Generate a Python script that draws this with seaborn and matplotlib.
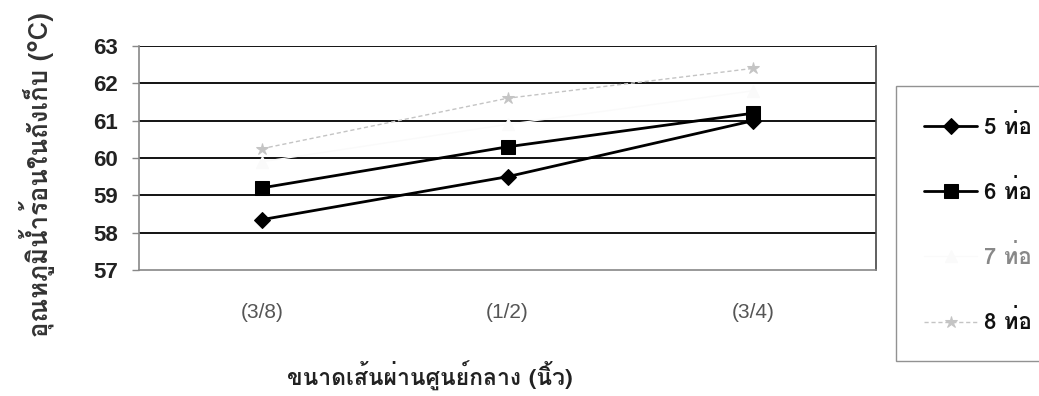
import matplotlib
matplotlib.use("Agg")
import matplotlib.pyplot as plt
from matplotlib import font_manager
from matplotlib.ft2font import FT2Font
import seaborn as sns
import pandas as pd

# --- data -----------------------------------------------------------------
pipe_sizes = ["(3/8)", "(1/2)", "(3/4)"]
series_names = ["5 ท่อ", "6 ท่อ", "7 ท่อ", "8 ท่อ"]
temp_5 = [58.35, 59.5, 61.0]
temp_6 = [59.2, 60.3, 61.2]
temp_7 = [59.9, 60.9, 61.8]
temp_8 = [60.25, 61.6, 62.4]
y_ticks = [57, 58, 59, 60, 61, 62, 63]
y_label = "อุณหภูมิน้ำร้อนในถังเก็บ (°C)"
x_label = "ขนาดเส้นผ่านศูนย์กลาง (นิ้ว)"


def thai_families():
    """Installed families that can draw Thai script."""
    found = []
    for f in font_manager.fontManager.ttflist:
        try:
            ft = FT2Font(f.fname)
            if ft.get_char_index(ord("ท")) and f.name not in found:
                found.append(f.name)
        except Exception:
            pass
    return found


sns.set_theme(style="white")
thai = thai_families()
plt.rcParams["font.family"] = thai[:2] + ["Liberation Sans", "DejaVu Sans"]

df = pd.DataFrame({
    "size": pipe_sizes * 4,
    "temp": temp_5 + temp_6 + temp_7 + temp_8,
    "series": [s for s in series_names for _ in pipe_sizes],
})

fig = plt.figure(figsize=(10.39, 3.96), dpi=100)
ax = fig.add_axes([0.1338, 0.318, 0.7095, 0.566])

styles = {
    "5 ท่อ": dict(color="black", marker="D", markersize=8, lw=2.0, ls="-"),
    "6 ท่อ": dict(color="black", marker="s", markersize=10, lw=2.0, ls="-"),
    "7 ท่อ": dict(color="#fafafa", marker="^", markersize=8, lw=1.0, ls="-"),
    "8 ท่อ": dict(color="#c4c4c4", marker="*", markersize=9, lw=1.0, ls=(0, (3, 2))),
}

for name in series_names:
    sub = df[df["series"] == name]
    st = styles[name]
    sns.lineplot(data=sub, x="size", y="temp", ax=ax, sort=False,
                 color=st["color"], marker=st["marker"],
                 markersize=st["markersize"], linewidth=st["lw"],
                 linestyle=st["ls"], markeredgecolor=st["color"],
                 label=name)

ax.set_xlim(-0.5, 2.5)
ax.set_ylim(57, 63)
ax.set_yticks(y_ticks)
ax.set_yticklabels([str(v) for v in y_ticks], fontsize=16, fontweight="bold",
                   color="#222222", family=["Liberation Sans"])
ax.set_xticks([0, 1, 2])
ax.set_xticklabels(pipe_sizes, fontsize=15, color="#555555",
                   family=["Liberation Sans"])
ax.set_xticks([-0.5, 0.5, 1.5, 2.5], minor=True)
ax.tick_params(axis="x", which="major", length=0, pad=24)
ax.tick_params(axis="x", which="minor", length=5, color="#888888",
               direction="out", width=1)
ax.tick_params(axis="y", length=5, color="#888888", direction="out",
               width=1, pad=10, left=True)

for y in y_ticks[1:]:
    ax.axhline(y, color="black", lw=1.3, zorder=0)

for side in ["left", "bottom"]:
    ax.spines[side].set_color("#888888")
    ax.spines[side].set_linewidth(1.2)
ax.spines["right"].set_color("#444444")
ax.spines["right"].set_linewidth(1.2)
ax.spines["top"].set_visible(False)

ax.set_xlabel("")
ax.set_ylabel("")
fig.text(0.036, 0.56, y_label, rotation=90, ha="center", va="center",
         fontsize=18.5, fontweight="bold", color="#333333")
fig.text(0.414, 0.05, x_label, ha="center", va="center",
         fontsize=16.5, fontweight="bold", color="#222222")

leg = ax.legend(loc="upper left", bbox_to_anchor=(1.012, 0.87),
                frameon=True, fontsize=16, handlelength=2.4,
                labelspacing=1.85, borderpad=1.25, handletextpad=0.3)
leg.get_frame().set_edgecolor("#777777")
leg.get_frame().set_linewidth(1.0)
leg.get_frame().set_boxstyle("square", pad=0)
for txt, name in zip(leg.get_texts(), series_names):
    txt.set_color("#888888" if name == "7 ท่อ" else "#111111")
    txt.set_fontweight("bold")

fig.savefig("out.png", dpi=100, facecolor="white")
